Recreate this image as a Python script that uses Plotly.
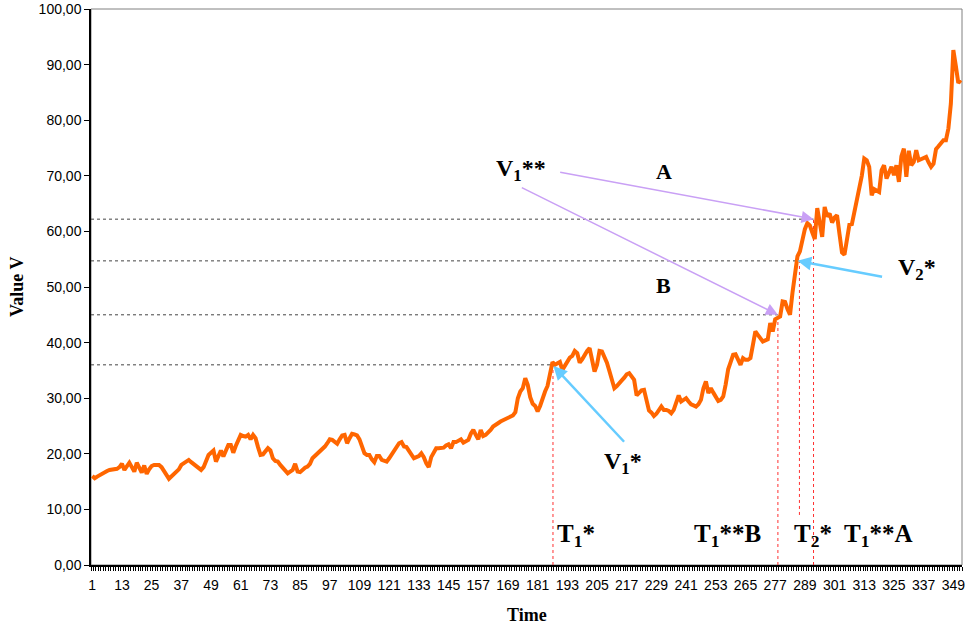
import plotly.graph_objects as go

# ---------------- data ----------------
value_v = [
    16.0, 15.6, 15.9, 16.2, 16.4, 16.7, 16.9, 17.1, 17.2, 17.2,
    17.3, 17.6, 18.2, 17.1, 17.8, 18.4, 17.6, 16.8, 18.4, 17.4,
    16.6, 17.9, 16.4, 17.2, 17.8, 18.0, 18.0, 18.0, 17.6, 17.0,
    16.2, 15.5, 15.9, 16.3, 16.7, 17.2, 18.0, 18.3, 18.7, 18.9,
    18.5, 18.1, 17.7, 17.4, 17.1, 17.6, 18.6, 19.8, 20.2, 20.6,
    18.6, 19.6, 20.6, 19.5, 20.8, 21.6, 21.6, 20.2, 21.4, 22.5,
    23.4, 23.2, 23.1, 23.4, 22.6, 23.4, 22.8, 21.2, 19.8, 19.9,
    20.4, 21.0, 20.6, 19.2, 18.7, 18.6, 18.0, 17.4, 16.9, 16.5,
    16.8, 17.1, 18.2, 16.8, 16.7, 17.2, 17.5, 17.7, 18.2, 19.2,
    19.6, 19.9, 20.3, 20.9, 21.3, 21.9, 22.6, 22.5, 22.1, 21.8,
    22.6, 23.3, 23.4, 21.9, 22.8, 23.6, 23.5, 23.3, 22.6, 21.5,
    20.1, 19.8, 19.8, 19.0, 18.5, 19.6, 19.6, 18.9, 18.7, 18.6,
    19.2, 19.9, 20.7, 21.4, 21.9, 22.1, 21.3, 21.2, 20.5, 19.7,
    19.2, 19.4, 19.6, 20.1, 19.4, 18.3, 17.6, 19.4, 20.4, 21.0,
    21.0, 21.0, 21.1, 21.5, 21.7, 21.0, 22.1, 22.1, 22.3, 22.6,
    22.0, 22.3, 22.5, 23.6, 24.3, 23.4, 22.6, 24.3, 23.2, 23.4,
    23.8, 24.3, 24.9, 25.3, 25.5, 25.8, 26.0, 26.2, 26.5, 26.7,
    26.9, 27.5, 30.0, 31.2, 31.8, 33.6, 32.4, 30.2, 29.0, 28.6,
    27.6, 28.6, 30.0, 31.2, 32.2, 34.2, 36.5, 36.0, 36.3, 36.5,
    35.1, 35.8, 36.8, 37.3, 37.6, 38.5, 38.1, 36.4, 37.0, 37.8,
    38.5, 39.0, 36.6, 34.8, 36.0, 38.5, 38.4, 37.5, 36.4, 34.9,
    33.4, 31.8, 32.2, 32.6, 33.2, 33.7, 34.3, 34.5, 34.0, 33.3,
    30.5, 31.1, 31.4, 31.5, 29.8, 27.8, 27.4, 26.8, 27.2, 27.8,
    28.5, 27.9, 27.9, 27.7, 27.3, 27.9, 29.0, 30.5, 29.4, 29.7,
    30.0, 29.4, 28.9, 28.7, 28.5, 28.9, 29.7, 31.8, 33.0, 30.9,
    31.8, 31.0, 30.3, 29.5, 29.7, 30.3, 32.5, 35.2, 36.5, 37.8,
    37.9, 36.8, 36.0, 37.2, 36.9, 36.9, 37.2, 39.6, 42.0, 41.4,
    40.8, 40.2, 40.4, 40.6, 43.5, 42.0, 44.2, 44.4, 44.7, 47.4,
    47.3, 46.0, 45.0, 49.0, 53.0, 55.5, 56.4, 58.8, 60.4, 61.5,
    61.1, 59.8, 58.6, 64.2, 61.6, 59.0, 64.4, 62.7, 63.2, 61.6,
    62.5, 62.9, 59.5, 56.2, 55.8, 59.0, 61.2, 61.3, 63.6, 65.8,
    67.5, 70.0, 73.1, 72.8, 71.6, 66.5, 67.6, 67.4, 67.1, 71.0,
    71.9, 69.5, 70.7, 71.6, 70.1, 71.9, 68.9, 73.5, 74.9, 69.8,
    74.5, 71.9, 72.5, 74.6, 72.8, 73.0, 73.1, 73.4, 72.4, 71.6,
    72.2, 74.8, 75.3, 75.9, 76.4, 76.4, 78.5, 83.0, 92.6, 89.8,
    86.7, 87.2,
]
time = list(range(1, len(value_v) + 1))
x_tick_vals = list(range(1, 350, 12))
x_tick_text = [str(v) for v in x_tick_vals]
y_tick_vals = list(range(0, 101, 10))

# key events (time, value)
event_names = ["T1*", "T1**B", "T2*", "T1**A"]
event_times = [187.2, 278.1, 286.8, 292.5]
event_levels = [36.0, 45.0, 54.7, 62.2]
# lower start of each red drop line (T2* line hidden behind its label)
event_drop_from = [0, 0, 9.0, 0]

# ---------------- figure ----------------
ORANGE = "#FF6600"
PURPLE = "#C9A0F5"
CYAN = "#66CCFF"
SERIF = "Liberation Serif, Times New Roman, serif"
SANS = "Liberation Sans, Arial, sans-serif"

fig = go.Figure()

shapes = []
for t, v, y0 in zip(event_times, event_levels, event_drop_from):
    shapes.append(dict(type="line", xref="x", yref="y", x0=0.5, x1=t, y0=v, y1=v,
                       line=dict(color="#444444", width=1, dash="dot"), layer="below"))
    shapes.append(dict(type="line", xref="x", yref="y", x0=t, x1=t, y0=y0, y1=v,
                       line=dict(color="#FF3030", width=1, dash="dot"), layer="below"))
# plot area frame
shapes.append(dict(type="rect", xref="paper", yref="paper", x0=0, x1=1, y0=0, y1=1,
                   line=dict(color="#808080", width=1), layer="below"))

fig.add_trace(go.Scatter(x=time, y=value_v, mode="lines",
                         line=dict(color=ORANGE, width=4), hoverinfo="skip",
                         showlegend=False))

annotations = []

def label(text, x, y, size):
    annotations.append(dict(text=text, x=x, y=y, xref="x", yref="y", showarrow=False,
                            font=dict(family=SERIF, size=size, color="black"),
                            xanchor="center", yanchor="middle"))

def arrow(x, y, ax, ay, color, width, size):
    annotations.append(dict(text="", x=x, y=y, ax=ax, ay=ay, xref="x", yref="y",
                            axref="x", ayref="y", showarrow=True, arrowhead=2,
                            arrowsize=size, arrowwidth=width, arrowcolor=color,
                            standoff=0, startstandoff=0))

# arrows
arrow(event_times[3], event_levels[3], 189.5, 70.7, PURPLE, 1.5, 1.6)   # A
arrow(event_times[1], event_levels[1], 174.0, 68.0, PURPLE, 1.5, 1.6)   # B
arrow(286.0, event_levels[2], 320.8, 51.8, CYAN, 2.5, 1.1)              # V2*
arrow(187.4, 35.8, 216.5, 21.9, CYAN, 2.5, 1.1)                         # V1*

# text labels
label("<b>V<sub>1</sub>**</b>", 174.4, 71.0, 24)
label("<b>A</b>", 231.9, 70.7, 22)
label("<b>B</b>", 231.9, 50.2, 22)
label("<b>V<sub>2</sub>*</b>", 334.5, 53.2, 24)
label("<b>V<sub>1</sub>*</b>", 215.3, 18.3, 24)
label("<b>T<sub>1</sub>*</b>", 196.6, 5.3, 25)
label("<b>T<sub>1</sub>**B</b>", 257.7, 5.3, 25)
label("<b>T<sub>2</sub>*</b>", 292.1, 5.3, 25)
label("<b>T<sub>1</sub>**A</b>", 318.7, 5.3, 25)

# axis titles
annotations.append(dict(text="<b>Value V</b>", xref="paper", yref="paper",
                        x=(17 - 91) / 871, y=0.5, textangle=-90, showarrow=False,
                        font=dict(family=SERIF, size=18, color="black"),
                        xanchor="center", yanchor="middle"))
annotations.append(dict(text="<b>Time</b>", xref="paper", yref="paper",
                        x=0.5, y=-0.09, showarrow=False,
                        font=dict(family=SERIF, size=18, color="black"),
                        xanchor="center", yanchor="middle"))

fig.update_layout(
    width=970, height=628,
    margin=dict(l=91, r=8, t=9, b=63, autoexpand=False),
    paper_bgcolor="white", plot_bgcolor="white",
    separators=",.",
    shapes=shapes, annotations=annotations,
    showlegend=False,
)
fig.update_xaxes(
    automargin=False,
    range=[0.5, len(value_v) + 0.5], tickmode="array",
    tickvals=x_tick_vals, ticktext=x_tick_text,
    ticks="", showgrid=False, zeroline=False,
    showline=True, linecolor="black", linewidth=1.5,
    tickfont=dict(family=SANS, size=14, color="black"),
    ticklabelstandoff=6,
    minor=dict(ticks="outside", tick0=0.5, dtick=1, ticklen=4,
               tickcolor="black", tickwidth=1, showgrid=False),
)
fig.update_yaxes(
    automargin=False,
    range=[0, 100], tickmode="array", tickvals=y_tick_vals, tickformat=".2f",
    ticks="outside", ticklen=5, tickcolor="black", tickwidth=1,
    showgrid=False, zeroline=False,
    showline=True, linecolor="black", linewidth=1.5,
    tickfont=dict(family=SANS, size=14, color="black"),
)

fig.write_html(
    "out.html",
    config={"displayModeBar": False},
    post_script="document.body.style.margin='0';document.body.style.overflow='hidden';",
)
